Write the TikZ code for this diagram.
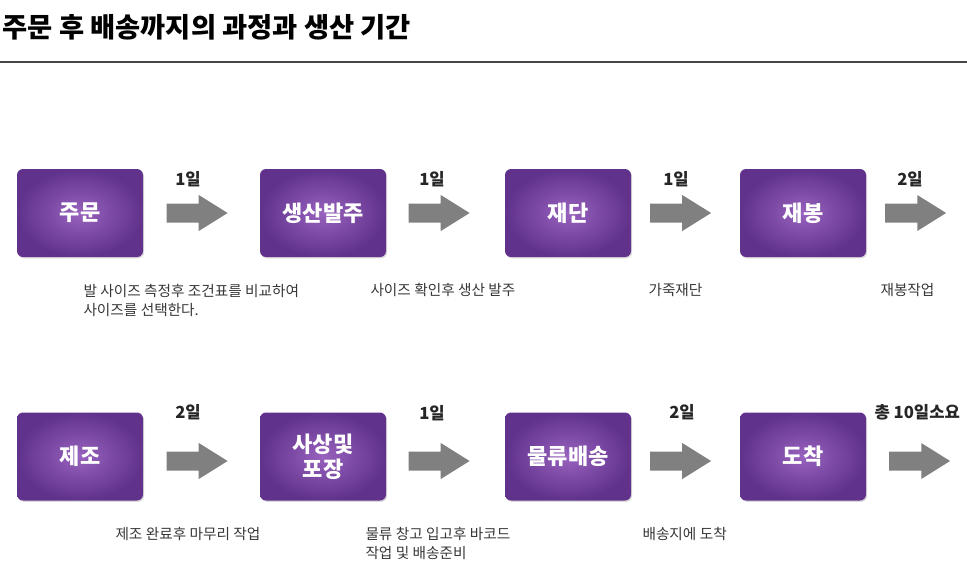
\documentclass[tikz,border=0pt]{standalone}
\usepackage{fontspec}
\setmainfont{Noto Sans CJK KR}
\usetikzlibrary{shapes.arrows,shadows}

\definecolor{boxdark}{RGB}{96,50,140}
\definecolor{boxlight}{RGB}{152,98,190}
\definecolor{arrowgray}{RGB}{128,128,128}
\definecolor{desctext}{RGB}{55,55,55}
\definecolor{rulegray}{RGB}{70,70,70}

\tikzset{every picture/.style={line width=0.75pt}}
\tikzset{
  stepbox/.style={rectangle, rounded corners=4.5pt, draw=none,
    inner color=boxlight, outer color=boxdark,
    minimum width=94.5pt, minimum height=66pt,
    drop shadow={shadow xshift=0.8pt, shadow yshift=-1pt, opacity=0.3},
    text=white, font=\fontsize{16.5}{19}\selectfont\bfseries, align=center},
  flowarrow/.style={single arrow, fill=arrowgray, draw=none,
    minimum height=45.75pt, inner xsep=0pt, inner ysep=6.75pt,
    single arrow head extend=6.4pt, single arrow tip angle=64},
  daylabel/.style={font=\fontsize{12.5}{14}\selectfont\bfseries, text=black!85, inner sep=0.75pt},
  desclabel/.style={anchor=north west, font=\fontsize{11}{14.2}\selectfont, text=desctext,
    align=left, inner sep=0pt}
}

\begin{document}
\begin{tikzpicture}[x=0.75pt,y=0.75pt,yscale=-1,xscale=1]
\useasboundingbox (0,0) rectangle (967,579);

% Title
\node [anchor=west, inner sep=0pt, font=\fontsize{20.5}{22}\selectfont\bfseries] (title) at (2,27) {주문 후 배송까지의 과정과 생산 기간};
\draw [color=rulegray, line width=1.1pt] (0,62) -- (967,62);

%Row 1
\node [stepbox] (order) at (80,213) {주문};
\node [stepbox] (prodorder) at (323,213) {생산발주};
\node [stepbox] (cutting) at (568,213) {재단};
\node [stepbox] (sewing) at (803,213) {재봉};

\node [flowarrow] (a1) at (189.5,213) {};
\node [flowarrow] (a2) at (431.5,213) {};
\node [flowarrow] (a3) at (673,213) {};
\node [flowarrow] (a4) at (908,213) {};

\node [daylabel] (d1) at (188,179) {1일};
\node [daylabel] (d2) at (432,179) {1일};
\node [daylabel] (d3) at (676,179) {1일};
\node [daylabel] (d4) at (910,179) {2일};

\node [desclabel] (t1) at (83,284) {발 사이즈 측정후 조건표를 비교하여\\사이즈를 선택한다.};
\node [desclabel] (t2) at (370,283) {사이즈 확인후 생산 발주};
\node [desclabel] (t3) at (648,283) {가죽재단};
\node [desclabel] (t4) at (880,283) {재봉작업};

%Row 2
\node [stepbox] (making) at (80,456.5) {제조};
\node [stepbox] (packing) at (323,456.5) {사상및\\포장};
\node [stepbox] (shipping) at (568,456.5) {물류배송};
\node [stepbox] (arrival) at (803,456.5) {도착};

\node [flowarrow] (b1) at (189.5,461) {};
\node [flowarrow] (b2) at (431.5,461) {};
\node [flowarrow] (b3) at (673,461) {};
\node [flowarrow] (b4) at (912,461) {};

\node [daylabel] (e1) at (188,412) {2일};
\node [daylabel] (e2) at (432,413) {1일};
\node [daylabel] (e3) at (682,412) {2일};
\node [daylabel, anchor=west] (e4) at (873,412) {총 10일소요};

\node [desclabel] (s1) at (115,527) {제조 완료후 마무리 작업};
\node [desclabel] (s2) at (365,527) {물류 창고 입고후 바코드\\작업 및 배송준비};
\node [desclabel] (s3) at (642,527) {배송지에 도착};

\end{tikzpicture}
\end{document}
